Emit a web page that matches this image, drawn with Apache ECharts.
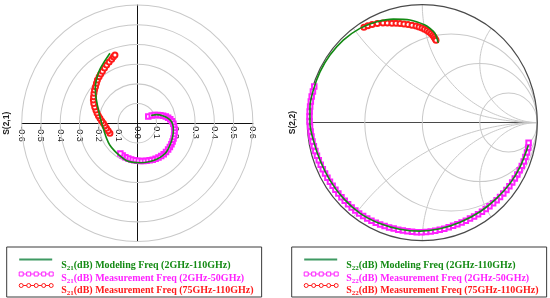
<!DOCTYPE html>
<html>
<head>
<meta charset="utf-8">
<script src="https://cdn.jsdelivr.net/npm/echarts@6/dist/echarts.min.js"></script>
<style>
  html, body { margin: 0; padding: 0; background: #fff; }
  #main { width: 550px; height: 298px; }
</style>
</head>
<body>
<div id="main"></div>
<script>
// ---- S(2,1) polar plot, points are [re, im]
const s21Model = [
  [0.072, 0.04], [0.1, 0.044], [0.135, 0.037], [0.16, 0.025], [0.178, 0.008],
  [0.186, -0.015], [0.187, -0.04], [0.183, -0.07], [0.174, -0.1], [0.152, -0.144],
  [0.128, -0.166], [0.1, -0.182], [0.06, -0.195], [0.02, -0.2], [-0.02, -0.198],
  [-0.055, -0.19], [-0.09, -0.165], [-0.118, -0.14], [-0.143, -0.11], [-0.16, -0.075],
  [-0.172, -0.04], [-0.185, 0], [-0.202, 0.068], [-0.215, 0.135], [-0.218, 0.18],
  [-0.21, 0.23], [-0.196, 0.27], [-0.176, 0.305], [-0.142, 0.355]
]
const s21MeasLow = [
  [0.057, 0.034], [0.075, 0.04], [0.09, 0.042], [0.105, 0.042], [0.12, 0.041],
  [0.134, 0.038], [0.148, 0.034], [0.16, 0.028], [0.171, 0.02], [0.18, 0.01],
  [0.187, -0.002], [0.191, -0.017], [0.193, -0.032], [0.193, -0.047], [0.191, -0.062],
  [0.188, -0.077], [0.183, -0.092], [0.177, -0.106], [0.169, -0.12], [0.16, -0.133],
  [0.149, -0.146], [0.137, -0.157], [0.124, -0.166], [0.11, -0.174], [0.095, -0.18],
  [0.08, -0.185], [0.064, -0.188], [0.048, -0.19], [0.032, -0.191], [0.016, -0.191],
  [0, -0.19], [-0.016, -0.188], [-0.032, -0.184], [-0.047, -0.179], [-0.062, -0.172],
  [-0.076, -0.163], [-0.088, -0.153]
]
const s21MeasHigh = [
  [-0.142, -0.051], [-0.151, -0.038], [-0.16, -0.025], [-0.168, -0.012], [-0.176, 0],
  [-0.185, 0.012], [-0.194, 0.025], [-0.202, 0.038], [-0.209, 0.052], [-0.215, 0.067],
  [-0.221, 0.083], [-0.226, 0.1], [-0.228, 0.118], [-0.227, 0.135], [-0.225, 0.152],
  [-0.222, 0.169], [-0.217, 0.186], [-0.212, 0.203], [-0.207, 0.22], [-0.198, 0.236],
  [-0.19, 0.25], [-0.181, 0.264], [-0.17, 0.28], [-0.159, 0.296], [-0.146, 0.311],
  [-0.133, 0.325], [-0.124, 0.337], [-0.116, 0.347]
]
const s21Rings = [0.1, 0.2, 0.3, 0.4, 0.5, 0.6]

// ---- S(2,2) smith chart, points are [magnitude, phase in degrees]
const s22Model = [
  [0.942, -11.7], [0.929, -23.8], [0.921, -34], [0.911, -44.8], [0.907, -56.4],
  [0.906, -68.7], [0.912, -80.3], [0.92, -91.2], [0.925, -102.2], [0.932, -113.3],
  [0.94, -125.1], [0.94, -136.9], [0.94, -148.8], [0.945, -160.3], [0.959, -171.1],
  [0.977, -179.6], [0.986, 172.2], [0.987, 163.8], [0.988, 154.2], [0.986, 144.5],
  [0.98, 134.5], [0.965, 124.2], [0.942, 114.9], [0.912, 106], [0.876, 97],
  [0.828, 88.4], [0.801, 85.2], [0.764, 81.7], [0.69, 78.4]
]
const s22MeasLow = [
  [0.94, -10.5], [0.945, -13], [0.945, -15.5], [0.943, -18], [0.942, -20.5],
  [0.94, -23], [0.938, -25.5], [0.936, -28], [0.934, -30.5], [0.932, -33],
  [0.93, -35.5], [0.928, -38], [0.926, -40.5], [0.924, -43], [0.922, -45.5],
  [0.92, -48], [0.918, -50.5], [0.917, -53], [0.916, -55.5], [0.915, -58],
  [0.914, -60.5], [0.913, -63], [0.913, -65.5], [0.913, -68], [0.914, -70.5],
  [0.915, -73], [0.917, -75.5], [0.919, -78], [0.921, -80.5], [0.923, -83],
  [0.925, -85.5], [0.927, -88], [0.929, -90.5], [0.93, -93], [0.93, -95.5],
  [0.93, -98], [0.93, -100.5], [0.931, -103], [0.932, -105.5], [0.934, -108],
  [0.936, -110.5], [0.938, -113], [0.94, -115.5], [0.942, -118], [0.944, -120.5],
  [0.945, -123], [0.946, -125.5], [0.946, -128], [0.946, -130.5], [0.946, -133],
  [0.946, -135.5], [0.946, -138], [0.946, -140.5], [0.946, -143], [0.946, -145.5],
  [0.947, -148], [0.948, -150.5], [0.949, -153], [0.951, -155.5], [0.953, -158],
  [0.955, -160.5], [0.958, -163], [0.961, -165.5], [0.964, -168], [0.968, -170.5],
  [0.971, -173], [0.974, -175.5], [0.977, -178], [0.98, 179.5], [0.982, 177],
  [0.984, 174.5], [0.985, 172], [0.986, 169.5], [0.987, 167], [0.987, 164.5],
  [0.988, 162]
]
const s22MeasHigh = [
  [0.955, 122.1], [0.948, 120], [0.939, 117.7], [0.926, 115], [0.91, 112.1],
  [0.897, 109.8], [0.883, 107.4], [0.872, 105.2], [0.861, 103], [0.851, 100.8],
  [0.84, 98.5], [0.83, 96.2], [0.82, 93.8], [0.81, 92], [0.801, 90.2],
  [0.791, 88.6], [0.781, 87], [0.77, 85.6], [0.758, 84.2], [0.745, 83],
  [0.732, 82], [0.72, 81.1], [0.709, 80.3]
]
const smithResistance = [0, 1 / 3, 1, 3]
const smithReactance = [0.5, 1, 2, -0.5, -1, -2]

const legendS21 = [
  'S21(dB) Modeling Freq (2GHz-110GHz)',
  'S21(dB) Measurement Freq (2GHz-50GHz)',
  'S21(dB) Measurement Freq (75GHz-110GHz)'
]
const legendS22 = [
  'S22(dB) Modeling Freq (2GHz-110GHz)',
  'S22(dB) Measurement Freq (2GHz-50GHz)',
  'S22(dB) Measurement Freq (75GHz-110GHz)'
]

const GREEN = '#138a13'
const MAGENTA = '#ff22ff'
const RED = '#ff1a1a'
const GRID_GREY = '#c9c9c9'

const toUV = ([m, p]) => [m * Math.cos(p * Math.PI / 180), m * Math.sin(p * Math.PI / 180)]

// legend icons: 5 small markers joined by a line, drawn in the top of a 37x13 box
const circleIcon = 'path://' + [0, 7.5, 15, 22.5, 30].map((x, i) =>
  `M${x},2a2,2 0 1,0 4,0a2,2 0 1,0 -4,0` + (i < 4 ? `M${x + 4},2H${x + 7.5}` : '')).join('') + 'M37,13'
const squareIcon = 'path://' + [0, 7.5, 15, 22.5, 30].map((x, i) =>
  `M${x},0h4v4h-4z` + (i < 4 ? `M${x + 4},2H${x + 7.5}` : '')).join('') + 'M37,13'
const lineIcon = 'path://M0,0M0,1H33M37,13'

const legendFont = { fontFamily: 'Liberation Serif', fontWeight: 'bold', fontSize: 10, lineHeight: 13 }
const legendRich = {
  b: { ...legendFont },
  sub: { fontFamily: 'Liberation Serif', fontWeight: 'bold', fontSize: 7, lineHeight: 9, verticalAlign: 'bottom' }
}
function legendFormatter(name) {
  const m = name.match(/^S(\d\d)(.*)$/)
  return `{b|S}{sub|${m[1]}}{b|${m[2]}}`
}
function makeLegend(names, left, pad) {
  const colors = [GREEN, MAGENTA, RED]
  return {
    orient: 'vertical',
    left: left,
    top: 247,
    height: 120,
    itemWidth: 37,
    itemHeight: 13,
    itemGap: -2.5,
    padding: pad,
    borderColor: '#3a3a3a',
    borderWidth: 1,
    selectedMode: false,
    textStyle: { ...legendFont, rich: legendRich },
    formatter: legendFormatter,
    data: [
      { name: names[0], icon: lineIcon, itemStyle: { color: 'none', borderColor: '#3f9a63', borderWidth: 2 }, textStyle: { color: colors[0] } },
      { name: names[1], icon: squareIcon, itemStyle: { color: '#fff', borderColor: MAGENTA, borderWidth: 1 }, textStyle: { color: colors[1] } },
      { name: names[2], icon: circleIcon, itemStyle: { color: '#fff', borderColor: RED, borderWidth: 1 }, textStyle: { color: colors[2] } }
    ]
  }
}

function renderRing(params, api) {
  const r = api.value(0)
  const c = api.coord([0, 0])
  const s = api.size([r, r])
  return {
    type: 'circle', x: c[0], y: c[1], scaleY: s[1] / s[0],
    shape: { cx: 0, cy: 0, r: s[0] },
    style: { fill: 'none', stroke: GRID_GREY, lineWidth: 1, strokeNoScale: true }
  }
}
function renderResistance(params, api) {
  const r = api.value(0)
  const cx = r / (1 + r), rad = 1 / (1 + r)
  const c = api.coord([cx, 0])
  const s = api.size([rad, rad])
  return {
    type: 'circle', x: c[0], y: c[1], scaleY: s[1] / s[0], z2: r === 0 ? 10 : 1,
    shape: { cx: 0, cy: 0, r: s[0] },
    style: { fill: 'none', stroke: r === 0 ? '#4a4a4a' : GRID_GREY, lineWidth: r === 0 ? 1.2 : 1, strokeNoScale: true }
  }
}
function renderReactance(params, api) {
  const x = api.value(0)
  const ax = Math.abs(x), sg = Math.sign(x)
  const R = 1 / ax
  let end = Math.atan2((ax * ax - 1) / ax, -2)
  if (end > -Math.PI / 2) end -= 2 * Math.PI
  const pts = []
  const n = 80
  for (let i = 0; i <= n; i++) {
    const a = -Math.PI / 2 + (end + Math.PI / 2) * i / n
    pts.push(api.coord([1 + R * Math.cos(a), sg * (R + R * Math.sin(a))]))
  }
  return { type: 'polyline', shape: { points: pts }, style: { fill: 'none', stroke: GRID_GREY, lineWidth: 1 } }
}

function measSeries(name, data, xi, yi, color, symbol, size) {
  return {
    type: 'line', name, data, xAxisIndex: xi, yAxisIndex: yi,
    symbol, symbolSize: size, showSymbol: true, showAllSymbol: true,
    itemStyle: { color, borderColor: color, borderWidth: 1 },
    lineStyle: { color, width: 3, opacity: 0.75 },
    emphasis: { disabled: true }, silent: true
  }
}
function modelSeries(name, data, xi, yi) {
  return {
    type: 'line', name, data, xAxisIndex: xi, yAxisIndex: yi,
    symbol: 'none', smooth: 0.3,
    itemStyle: { color: GREEN },
    lineStyle: { color: GREEN, width: 1.6 },
    emphasis: { disabled: true }, silent: true, z: 4
  }
}

const hidden = { axisLine: { show: false }, axisTick: { show: false }, axisLabel: { show: false }, splitLine: { show: false } }

const chart = echarts.init(document.getElementById('main'))
chart.setOption({
  animation: false,
  backgroundColor: '#fff',
  grid: [
    { left: 21.7, top: 5, width: 231.2, height: 236.6 },
    { left: 307.3, top: 4.6, width: 230, height: 236 }
  ],
  xAxis: [
    {
      gridIndex: 0, type: 'value', min: -0.6, max: 0.6, interval: 0.1,
      position: 'bottom', offset: -118.3,
      axisLine: { onZero: false, lineStyle: { color: '#111', width: 1 } },
      axisTick: { show: false }, splitLine: { show: false },
      axisLabel: {
        rotate: -90, margin: 3, fontSize: 9, fontFamily: 'Liberation Sans', color: '#222',
        formatter: (v) => (Math.abs(v) < 1e-9 ? 0 : v).toFixed(1)
      }
    },
    { gridIndex: 1, type: 'value', min: -1, max: 1, ...hidden, position: 'bottom', offset: -118, axisLine: { onZero: false, lineStyle: { color: '#4a4a4a', width: 1 } } }
  ],
  yAxis: [
    { gridIndex: 0, type: 'value', min: -0.6, max: 0.6, ...hidden, position: 'left', offset: -115.6, axisLine: { onZero: false, lineStyle: { color: '#111', width: 1 } } },
    {
      gridIndex: 0, type: 'value', min: -0.6, max: 0.6, position: 'left', ...hidden,
      name: 'S(2,1)', nameLocation: 'middle', nameGap: 11,
      nameTextStyle: { fontSize: 8.5, fontWeight: 'bold', fontFamily: 'Liberation Sans', color: '#222' }
    },
    {
      gridIndex: 1, type: 'value', min: -1, max: 1, position: 'left', ...hidden,
      name: 'S(2,2)', nameLocation: 'middle', nameGap: 10,
      nameTextStyle: { fontSize: 8.5, fontWeight: 'bold', fontFamily: 'Liberation Sans', color: '#222' }
    }
  ],
  legend: [
    makeLegend(legendS21, 6.7, [9, 8, 0, 10]),
    makeLegend(legendS22, 291.7, [9, 8, 0, 10])
  ],
  series: [
    { type: 'custom', xAxisIndex: 0, yAxisIndex: 0, data: s21Rings.map((r) => [r]), renderItem: renderRing, silent: true, z: 1 },
    measSeries(legendS21[1], s21MeasLow, 0, 0, MAGENTA, 'emptyRect', 4.5),
    measSeries(legendS21[2], s21MeasHigh, 0, 0, RED, 'emptyCircle', 5),
    modelSeries(legendS21[0], s21Model, 0, 0),

    { type: 'custom', xAxisIndex: 1, yAxisIndex: 2, data: smithResistance.map((r) => [r]), renderItem: renderResistance, silent: true, z: 1 },
    { type: 'custom', xAxisIndex: 1, yAxisIndex: 2, data: smithReactance.map((x) => [x]), renderItem: renderReactance, silent: true, z: 1 },
    measSeries(legendS22[1], s22MeasLow.map(toUV), 1, 2, MAGENTA, 'emptyRect', 4.5),
    measSeries(legendS22[2], s22MeasHigh.map(toUV), 1, 2, RED, 'emptyCircle', 5),
    modelSeries(legendS22[0], s22Model.map(toUV), 1, 2)
  ]
})
</script>
</body>
</html>
